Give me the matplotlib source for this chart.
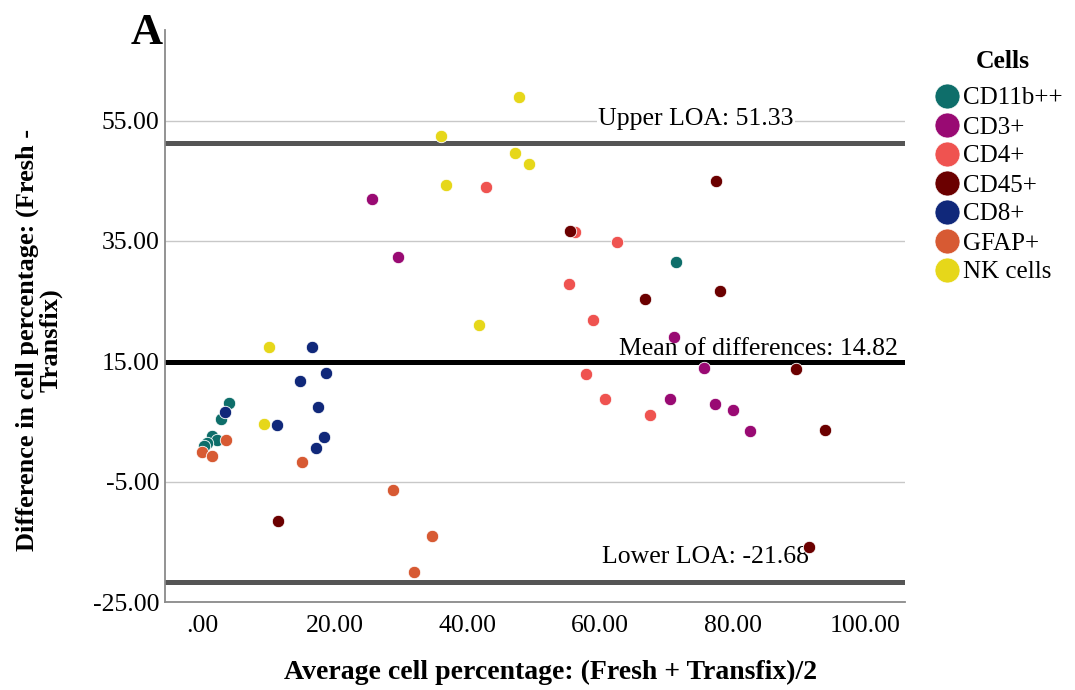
import matplotlib
matplotlib.use("Agg")
import matplotlib.pyplot as plt
from matplotlib.lines import Line2D

plt.rcParams['font.family'] = ['Liberation Serif', 'DejaVu Serif']

# Bland-Altman data: mean of the two methods (x) and their difference (y)
cd11b_x = [4.07, 2.87, 1.46, 2.30, 0.70, 0.35, 71.4]
cd11b_y = [8.00, 5.45, 2.55, 1.90, 1.45, 0.90, 31.55]

cd3_x = [25.6, 29.5, 71.2, 75.7, 70.5, 77.3, 80.0, 82.65]
cd3_y = [41.9, 32.4, 19.05, 13.95, 8.67, 7.95, 6.83, 3.50]

cd4_x = [42.8, 56.2, 62.6, 55.3, 58.9, 57.9, 60.8, 67.5]
cd4_y = [44.05, 36.45, 34.8, 27.8, 21.95, 12.95, 8.8, 6.05]

cd45_x = [77.5, 55.5, 66.7, 78.1, 89.6, 93.9, 91.55, 11.5]
cd45_y = [44.9, 36.6, 25.4, 26.7, 13.67, 3.55, -15.8, -11.5]

cd8_x = [16.5, 18.7, 14.7, 3.47, 17.45, 11.3, 18.4, 17.1]
cd8_y = [17.45, 13.1, 11.7, 6.55, 7.45, 4.45, 2.4, 0.6]

gfap_x = [3.67, 0.05, 1.46, 15.0, 28.8, 34.7, 32.0]
gfap_y = [2.0, -0.1, -0.67, -1.7, -6.33, -14.1, -19.95]

nk_x = [47.7, 36.05, 47.1, 49.3, 36.8, 41.8, 10.15, 9.3]
nk_y = [58.95, 52.45, 49.55, 47.8, 44.3, 21.0, 17.3, 4.6]

cell_names = ['CD11b++', 'CD3+', 'CD4+', 'CD45+', 'CD8+', 'GFAP+', 'NK cells']
cell_colors = ['#0e6e6a', '#990a73', '#ef5350', '#6b0000', '#10287a', '#d75a33', '#e6d71a']

mean_diff = 14.82
upper_loa = 51.33
lower_loa = -21.68

x_ticks = [0, 20, 40, 60, 80, 100]
x_ticklabels = ['.00', '20.00', '40.00', '60.00', '80.00', '100.00']
y_ticks = [-25, -5, 15, 35, 55]
y_ticklabels = ['-25.00', '-5.00', '15.00', '35.00', '55.00']

groups = [(cd11b_x, cd11b_y), (cd3_x, cd3_y), (cd4_x, cd4_y), (cd45_x, cd45_y),
          (cd8_x, cd8_y), (gfap_x, gfap_y), (nk_x, nk_y)]

fig = plt.figure(figsize=(10.75, 6.9), dpi=100)
ax = fig.add_axes([0.1535, 0.1275, 0.6885, 0.8285])

# reference grid
for yt in y_ticks:
    ax.axhline(yt, color='#c8c8c8', lw=1.0, zorder=1)

# limits of agreement and mean difference
ax.axhline(upper_loa, color='#555555', lw=3.6, zorder=2)
ax.axhline(lower_loa, color='#555555', lw=3.6, zorder=2)
ax.axhline(mean_diff, color='black', lw=3.6, zorder=2)

for (xs, ys), col in zip(groups, cell_colors):
    ax.scatter(xs, ys, s=80, c=col, edgecolors='white', linewidths=0.6, zorder=3)

ax.text(59.7, 55.3, 'Upper LOA: %.2f' % upper_loa, fontsize=18.5, va='center', ha='left',
        bbox=dict(facecolor='white', edgecolor='none', pad=1), zorder=2.5)
ax.text(62.9, 17.0, 'Mean of differences: %.2f' % mean_diff, fontsize=18.5, va='center',
        ha='left', zorder=4)
ax.text(60.3, -17.5, 'Lower LOA: %.2f' % lower_loa, fontsize=18.5, va='center',
        ha='left', zorder=2.5)

ax.set_xlim(-5.6, 106)
ax.set_ylim(-25, 70)
ax.set_xticks(x_ticks)
ax.set_xticklabels(x_ticklabels)
ax.set_yticks(y_ticks)
ax.set_yticklabels(y_ticklabels)
ax.tick_params(axis='both', length=0, labelsize=18.5)
ax.tick_params(axis='x', pad=9)
ax.tick_params(axis='y', pad=4)

for side in ['top', 'right']:
    ax.spines[side].set_visible(False)
for side in ['left', 'bottom']:
    ax.spines[side].set_color('#8a8a8a')
    ax.spines[side].set_linewidth(1.3)

fig.text(147 / 1075, 1 - 44 / 690, 'A', fontsize=32, fontweight='bold', ha='center', va='baseline')
fig.text(39 / 1075, 1 - 340 / 690, 'Difference in cell percentage: (Fresh -\nTransfix)',
         rotation=90, ha='center', va='center', multialignment='center',
         fontsize=19, fontweight='bold', linespacing=1.0)
fig.text(551 / 1075, 1 - 672 / 690, 'Average cell percentage: (Fresh + Transfix)/2',
         ha='center', va='center', fontsize=20, fontweight='bold')

# legend, with its title set apart above the entries
fig.text(1003 / 1075, 1 - 62 / 690, 'Cells', fontsize=18.5, fontweight='bold',
         ha='center', va='center')
handles = [Line2D([], [], marker='o', ls='none', markersize=18, markerfacecolor=c,
                  markeredgecolor='white', markeredgewidth=0.5) for c in cell_colors]
fig.legend(handles, cell_names, loc='upper left', bbox_to_anchor=(937 / 1075, 1 - 87 / 690),
           frameon=False, fontsize=18, handlelength=0.8,
           handletextpad=0.25, labelspacing=0.26, borderpad=0, borderaxespad=0)

fig.savefig('out.png', dpi=100)
